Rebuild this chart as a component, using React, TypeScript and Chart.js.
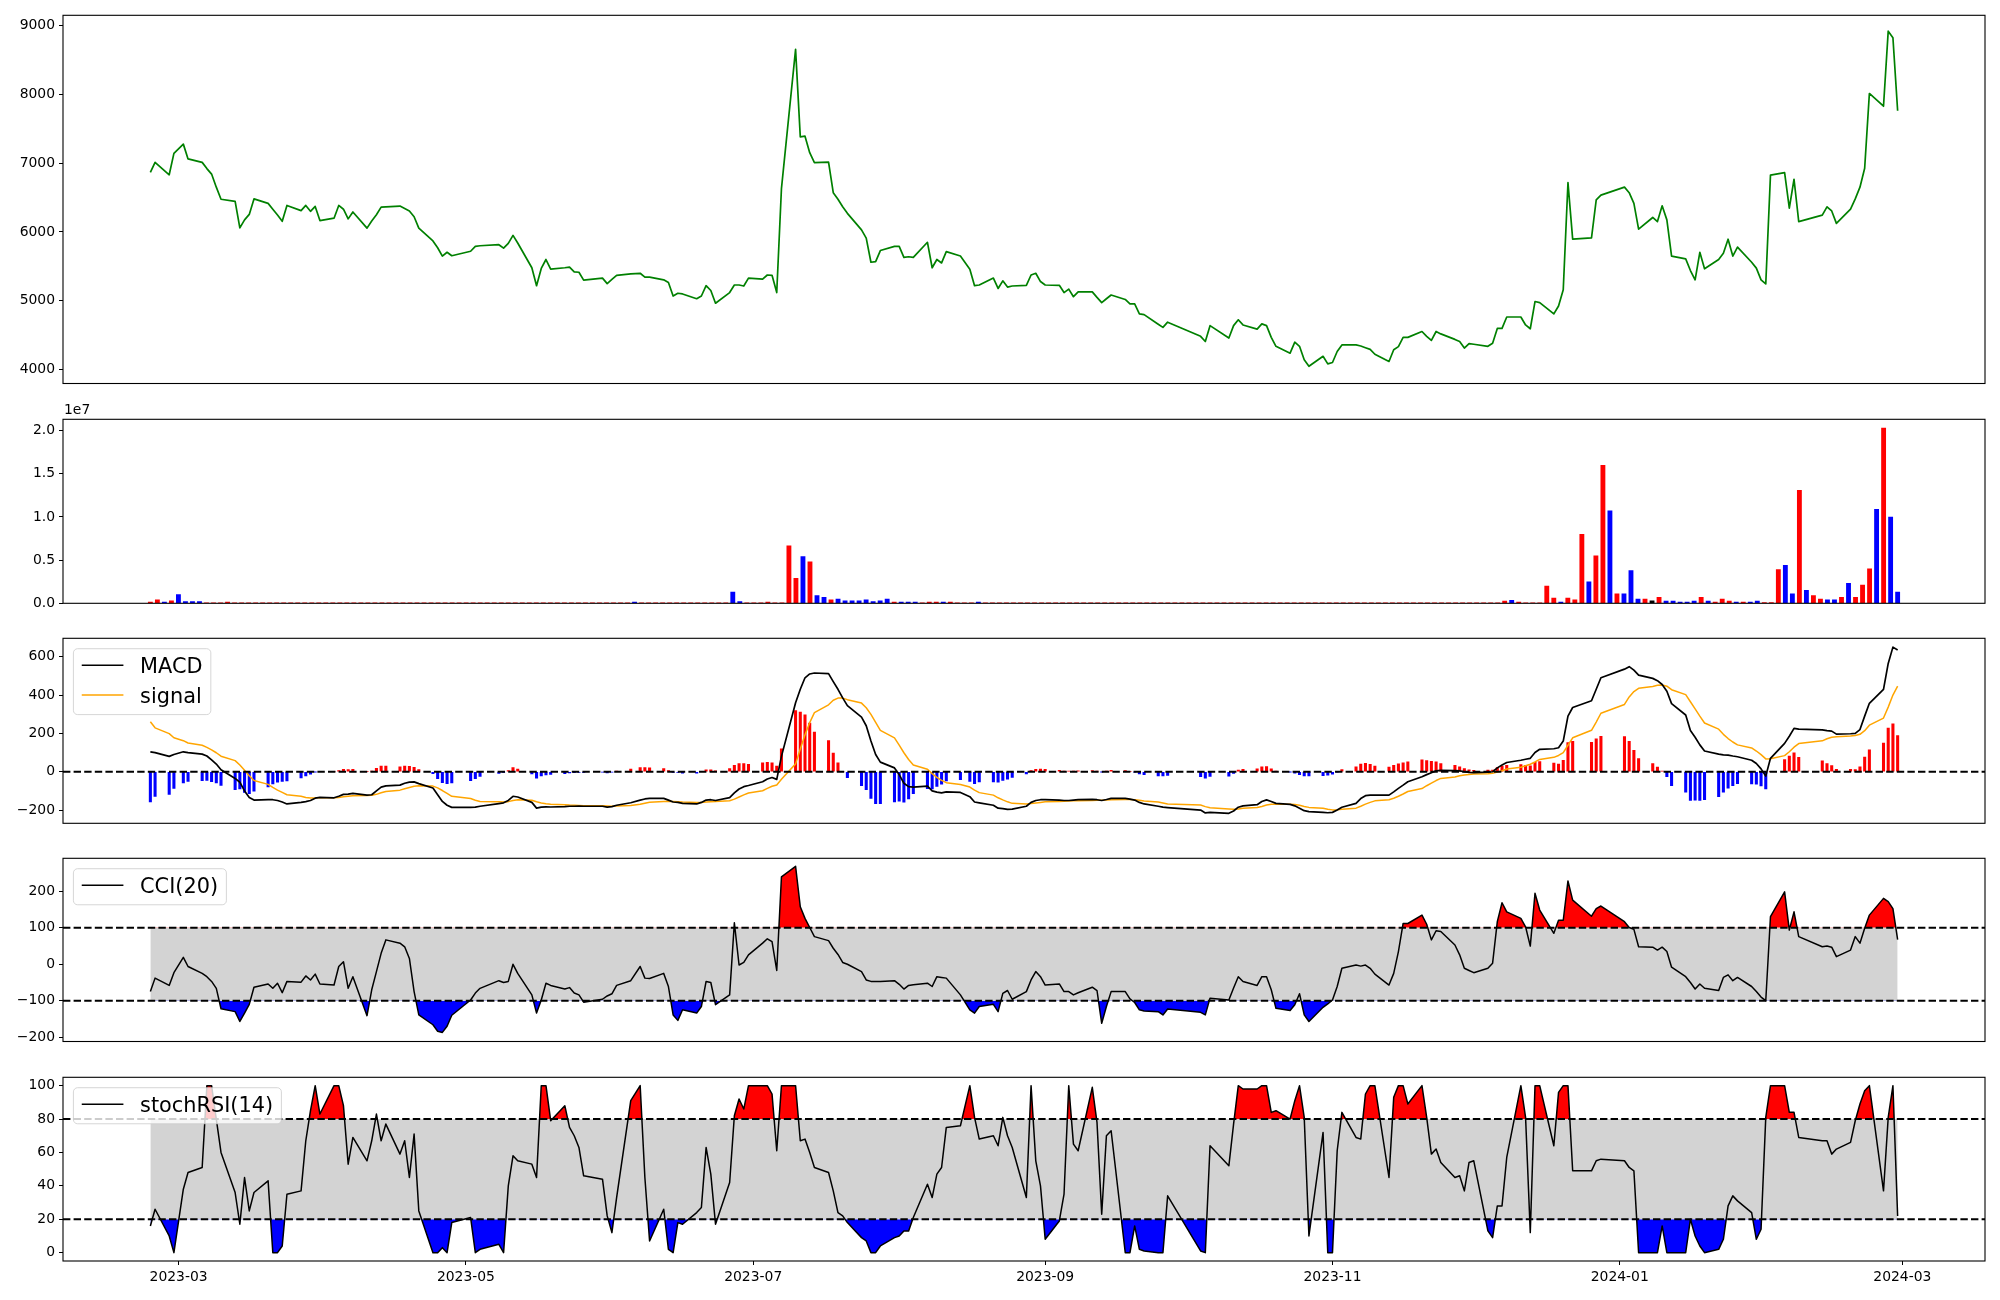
import React, { useEffect, useRef } from "react";
import { Chart, registerables } from "chart.js";

Chart.register(...registerables);

const FONT = "'DejaVu Sans', 'Liberation Sans', sans-serif";
Chart.defaults.font.family = FONT;
Chart.defaults.color = "#000";

// ---------- data ----------
const TRADING_MONTHS: [string, number[]][] = [
  ["2023-02", [23, 24, 27, 28]],
  ["2023-03", [2, 3, 6, 7, 8, 9, 10, 13, 14, 15, 16, 17, 20, 21, 22, 23, 24, 27, 28, 29, 30, 31]],
  ["2023-04", [3, 4, 5, 6, 7, 10, 11, 12, 13, 14, 17, 18, 19, 20, 21, 24, 25, 26, 27, 28]],
  ["2023-05", [2, 3, 4, 8, 9, 10, 11, 12, 15, 16, 17, 18, 19, 22, 23, 24, 25, 26, 30, 31]],
  ["2023-06", [1, 2, 5, 7, 8, 9, 12, 13, 14, 15, 16, 19, 20, 21, 22, 23, 26, 27, 28, 29, 30]],
  ["2023-07", [3, 4, 5, 6, 7, 10, 11, 12, 13, 14, 17, 18, 19, 20, 21, 24, 25, 26, 27, 28, 31]],
  ["2023-08", [1, 2, 3, 4, 7, 8, 9, 10, 11, 14, 16, 17, 18, 21, 22, 23, 24, 25, 28, 29, 30, 31]],
  ["2023-09", [1, 4, 5, 6, 7, 8, 11, 12, 13, 14, 15, 18, 19, 20, 21, 22, 25, 26, 27]],
  ["2023-10", [4, 5, 6, 10, 11, 12, 13, 16, 17, 18, 19, 20, 23, 24, 25, 26, 27, 30, 31]],
  ["2023-11", [1, 2, 3, 6, 7, 8, 9, 10, 13, 14, 15, 16, 17, 20, 21, 22, 23, 24, 27, 28, 29, 30]],
  ["2023-12", [1, 4, 5, 6, 7, 8, 11, 12, 13, 14, 15, 18, 19, 20, 21, 22, 26, 27, 28]],
  ["2024-01", [2, 3, 4, 5, 8, 9, 10, 11, 12, 15, 16, 17, 18, 19, 22, 23, 24, 25, 26, 29, 30, 31]],
  ["2024-02", [1, 2, 5, 6, 7, 8, 13, 14, 15, 16, 19, 20, 21, 22, 23, 26, 27, 28, 29]],
];

const CLOSE = [
  6865, 7010, 6830, 7140,
  7275, 7060, 7010, 6920, 6840, 6650, 6475, 6445, 6060, 6175, 6255, 6480, 6415, 6330, 6245, 6155, 6385, 6310, 6385, 6300, 6370, 6165,
  6200, 6385, 6330, 6190, 6290, 6055, 6160, 6250, 6360, 6365, 6375, 6340, 6305, 6220, 6055, 5870, 5770, 5650, 5705, 5655,
  5720, 5790, 5800, 5815, 5765, 5835, 5950, 5840, 5480, 5220, 5470, 5600, 5460, 5480, 5490, 5420, 5415, 5300, 5330, 5250,
  5310, 5370, 5390, 5400, 5345, 5345, 5305, 5265, 5070, 5110, 5100, 5030, 5070, 5220, 5150, 4965, 5120, 5230, 5230, 5215, 5330,
  5315, 5375, 5370, 5120, 6630, 8650, 7380, 7390, 7150, 7005, 7015, 6570, 6475, 6365, 6270, 6030, 5910, 5560, 5570, 5730, 5790,
  5790, 5630, 5640, 5630, 5850, 5480, 5600, 5550, 5715, 5650, 5460, 5220, 5230, 5330, 5180, 5290, 5200, 5215, 5225, 5375, 5400, 5280,
  5230, 5225, 5120, 5170, 5060, 5130, 5130, 5050, 4975, 5030, 5085, 5020, 4955, 4955, 4810, 4800, 4660, 4615, 4690,
  4485, 4410, 4640, 4460, 4640, 4725, 4650, 4590, 4665, 4640, 4470, 4340, 4240, 4400, 4340, 4145, 4050, 4195, 4085,
  4105, 4265, 4360, 4360, 4345, 4320, 4295, 4225, 4120, 4290, 4335, 4470, 4470, 4555, 4485, 4425, 4555, 4520, 4440, 4410, 4315, 4380,
  4370, 4340, 4385, 4600, 4600, 4765, 4765, 4650, 4595, 4990, 4975, 4810, 4925, 5160, 6715, 5895, 5915, 6465, 6535,
  6650, 6570, 6415, 6040, 6210, 6150, 6380, 6175, 5650, 5610, 5440, 5305, 5705, 5465, 5600, 5690, 5895, 5650, 5780, 5560, 5475, 5305,
  5245, 6825, 6860, 6345, 6765, 6150, 6245, 6365, 6305, 6125, 6330, 6480, 6650, 6925, 8010, 7825, 8915, 8820, 7760,
];

const VOLUME = [
  150000, 400000, 150000, 300000, 1000000, 200000, 200000, 200000, 30000, 20000,
  20000, 150000, 20000, 25000, 20000, 20000, 25000, 20000, 20000, 20000,
  20000, 25000, 20000, 20000, 20000, 20000, 25000, 20000, 20000, 20000,
  20000, 20000, 25000, 20000, 20000, 20000, 20000, 25000, 20000, 20000,
  20000, 20000, 20000, 25000, 20000, 20000, 20000, 20000, 25000, 20000,
  20000, 25000, 20000, 20000, 20000, 20000, 20000, 25000, 20000, 20000,
  20000, 20000, 25000, 20000, 20000, 20000, 20000, 20000, 25000, 150000,
  20000, 20000, 25000, 20000, 20000, 20000, 25000, 20000, 20000, 20000,
  20000, 20000, 20000, 1300000, 200000, 20000, 20000, 20000, 150000, 20000,
  30000, 6650000, 2900000, 5400000, 4800000, 900000, 700000, 400000, 500000, 300000,
  300000, 300000, 400000, 200000, 300000, 500000, 150000, 150000, 150000, 150000,
  60000, 150000, 150000, 150000, 150000, 60000, 60000, 60000, 150000, 60000,
  30000, 30000, 25000, 30000, 30000, 25000, 30000, 30000, 25000, 30000,
  20000, 20000, 25000, 20000, 20000, 20000, 25000, 20000, 20000, 20000,
  20000, 25000, 20000, 20000, 20000, 20000, 20000, 25000, 20000, 20000,
  20000, 20000, 20000, 25000, 20000, 20000, 20000, 20000, 25000, 20000,
  20000, 25000, 20000, 20000, 20000, 20000, 25000, 20000, 20000, 20000,
  20000, 20000, 25000, 20000, 20000, 20000, 20000, 25000, 20000, 20000,
  20000, 20000, 20000, 20000, 25000, 20000, 20000, 20000, 20000, 25000,
  30000, 30000, 40000, 250000, 350000, 150000, 60000, 40000, 60000, 2000000,
  600000, 150000, 600000, 400000, 8000000, 2500000, 5500000, 16000000, 10700000, 1100000,
  1100000, 3800000, 500000, 500000, 300000, 700000, 250000, 250000, 150000, 150000,
  250000, 700000, 250000, 150000, 500000, 250000, 150000, 150000, 150000, 250000,
  80000, 80000, 3900000, 4400000, 1100000, 13100000, 1500000, 900000, 500000, 400000,
  400000, 700000, 2300000, 700000, 2100000, 4000000, 10900000, 20300000, 10000000, 1300000,
];

// u = up day, d = down day, f = unchanged
const VOLUME_DIR = [
  "uududddduu", "uuuuuuuuuu", "uuuuuuuuuu", "uuuuuuuuuu", "uuuuuuuuuu",
  "uuuuuuuuuu", "uuuuuuuuud", "uuuuuuuuuu", "uuudduuuuu", "uuududdudd",
  "dddddduddd", "uuuduuuudu", "uuuuuuuuuu", "uuuuuuuuuu", "uuuuuuuuuu",
  "uuuuuuuuuu", "uuuuuuuuuu", "uuuuuuuuuu", "uuuuuuuuuu", "uuuuduuuuu",
  "uduuuduudu", "dddufudddd", "duduuududd", "uuudduduud", "duduuududd",
].join("");

const MACD = [
  104, 100, 80, 90, 104, 100, 92, 82, 62, 40,
  10, -35, -55, -100, -135, -148, -145, -146, -150, -158,
  -168, -160, -156, -150, -138, -134, -136, -128, -118, -117,
  -113, -122, -120, -100, -80, -74, -70, -60, -54, -53,
  -62, -85, -120, -155, -175, -186, -186, -185, -180, -166,
  -162, -150, -128, -132, -160, -190, -185, -183, -184, -182,
  -180, -180, -179, -180, -180, -185, -182, -175, -162, -148,
  -142, -139, -139, -148, -158, -160, -165, -168, -160, -148,
  -146, -150, -135, -110, -90, -78, -72, -52, -38, -30,
  -40, 80, 360, 430, 490, 510, 515, 512, 470, 430,
  385, 345, 285, 240, 160, 90, 50, 20, -15, -60,
  -78, -80, -75, -100, -106, -110, -105, -108, -130, -158,
  -162, -175, -190, -192, -196, -195, -180, -160, -150, -146,
  -145, -148, -150, -150, -148, -146, -144, -146, -150, -145,
  -139, -139, -143, -148, -160, -168, -180, -185, -187, -200,
  -215, -212, -217, -205, -185, -178, -172, -155, -147, -155,
  -165, -170, -178, -190, -203, -208, -212, -214, -212, -200,
  -185, -165, -140, -125, -122, -122, -122, -105, -87, -70,
  -52, -26, -15, -5, 5, 7, 6, 4, 0, -4,
  -5, -2, 0, 20, 35, 48, 60, 65, 70, 100,
  117, 120, 125, 160, 290, 335, 370, 430, 490, 535,
  548, 530, 504, 487, 475, 455, 420, 355, 296, 215,
  180, 140, 108, 92, 88, 87, 82, 78, 60, 43,
  15, -23, 70, 148, 185, 226, 222, 218, 214, 212,
  196, 198, 200, 220, 290, 357, 430, 565, 650, 635,
];

const SIGNAL = [
  261, 229, 199, 177, 162, 150, 138, 127, 114, 99,
  81, 58, 35, 8, -21, -46, -66, -82, -96, -108,
  -120, -128, -134, -137, -137, -136, -136, -134, -131, -128,
  -125, -124, -123, -118, -110, -103, -96, -89, -82, -76,
  -73, -75, -84, -98, -113, -128, -140, -149, -155, -157,
  -158, -156, -150, -146, -149, -157, -163, -167, -170, -172,
  -174, -175, -176, -177, -178, -179, -180, -179, -176, -170,
  -164, -159, -155, -154, -155, -156, -158, -160, -160, -158,
  -156, -155, -151, -143, -132, -121, -111, -99, -87, -76,
  -69, -39, 41, 119, 193, 256, 308, 349, 373, 384,
  384, 376, 358, 334, 299, 257, 216, 177, 139, 99,
  64, 35, 13, -10, -29, -45, -57, -67, -80, -96,
  -109, -122, -136, -147, -157, -165, -168, -166, -163, -160,
  -157, -155, -154, -153, -152, -151, -150, -149, -149, -148,
  -146, -145, -145, -146, -149, -153, -158, -163, -168, -174,
  -182, -188, -194, -196, -194, -191, -187, -181, -174, -170,
  -169, -169, -171, -175, -181, -186, -191, -196, -199, -199,
  -196, -190, -180, -169, -160, -152, -146, -138, -128, -116,
  -103, -88, -73, -59, -46, -35, -27, -21, -17, -14,
  -12, -10, -8, -2, 5, 14, 23, 31, 39, 51,
  64, 75, 85, 100, 138, 177, 216, 259, 305, 351,
  390, 418, 435, 445, 451, 452, 446, 428, 402, 365,
  328, 290, 254, 222, 195, 173, 155, 140, 124, 108,
  89, 67, 68, 84, 104, 128, 147, 161, 172, 180,
  183, 186, 189, 195, 214, 243, 280, 337, 400, 447,
];

const HIST = [
  -157, -129, -119, -87, -58, -50, -46, -45, -52, -59,
  -71, -93, -90, -108, -114, -102, -79, -64, -54, -50,
  -48, -32, -22, -13, -1, 2, 0, 6, 13, 11,
  12, 2, 3, 18, 30, 29, 26, 29, 28, 23,
  11, -10, -36, -57, -62, -58, -46, -36, -25, -9,
  -4, 6, 22, 14, -11, -33, -22, -16, -14, -10,
  -6, -5, -3, -3, -2, -6, -2, 4, 14, 22,
  22, 20, 16, 6, -3, -4, -7, -8, 0, 10,
  10, 5, 16, 33, 42, 43, 39, 47, 49, 46,
  29, 119, 319, 311, 297, 254, 207, 163, 97, 46,
  1, -31, -73, -94, -139, -167, -166, -157, -154, -159,
  -142, -115, -88, -90, -77, -65, -48, -41, -50, -62,
  -53, -53, -54, -45, -39, -30, -12, 6, 13, 14,
  12, 7, 4, 3, 4, 5, 6, 3, -1, 3,
  7, 6, 2, -2, -11, -15, -22, -22, -19, -26,
  -33, -24, -23, -9, 9, 13, 15, 26, 27, 15,
  4, -1, -7, -15, -22, -22, -21, -18, -13, -1,
  11, 25, 40, 44, 38, 30, 24, 33, 41, 46,
  51, 62, 58, 54, 51, 42, 33, 25, 17, 10,
  7, 8, 8, 22, 30, 34, 37, 34, 31, 49,
  53, 45, 40, 60, 152, 158, 154, 171, 185, 184,
  158, 112, 69, 42, 24, 3, -26, -73, -106, -150,
  -148, -150, -146, -130, -107, -86, -73, -62, -64, -65,
  -74, -90, 2, 64, 81, 98, 75, 57, 42, 32,
  13, 12, 11, 25, 76, 114, 150, 228, 250, 188,
];

const CCI = [
  -75, -38, -58, -23, 19, -6, -25, -34, -47, -66,
  -122, -130, -157, -134, -110, -63, -54, -66, -52, -78,
  -47, -49, -32, -43, -27, -54, -57, -6, 7, -66,
  -34, -141, -70, -20, 30, 67, 58, 48, 16, -75,
  -139, -166, -184, -187, -170, -140, -98, -79, -66, -45,
  -50, -47, 0, -25, -84, -134, -98, -52, -58, -68,
  -64, -79, -84, -104, -96, -87, -81, -58, -45, -6,
  -38, -39, -25, -61, -139, -154, -125, -134, -116, -47,
  -50, -111, -84, 114, -2, 5, 26, 58, 70, 62,
  -17, 240, 269, 158, 126, 101, 76, 65, 44, 27,
  5, 0, -20, -43, -47, -47, -47, -45, -55, -68,
  -58, -56, -52, -61, -34, -36, -38, -84, -125, -134,
  -116, -110, -130, -80, -72, -96, -75, -43, -20, -34,
  -57, -54, -75, -75, -84, -78, -63, -72, -162, -116,
  -75, -75, -95, -105, -125, -128, -130, -139, -123, -132,
  -139, -93, -98, -65, -34, -47, -58, -34, -34, -70,
  -121, -127, -111, -81, -139, -157, -118, -109, -98, -61,
  -11, -2, -5, -2, -11, -27, -57, -25, 35, 112,
  112, 135, 110, 67, 92, 90, 53, 26, -11, -17,
  -23, -11, 3, 117, 169, 144, 126, 103, 50, 195,
  149, 85, 121, 121, 229, 176, 132, 153, 160, 117,
  101, 96, 48, 47, 39, 47, 35, -8, -34, -50,
  -68, -54, -66, -72, -36, -29, -45, -36, -61, -75,
  -90, -100, 131, 199, 94, 144, 76, 48, 50, 47,
  21, 39, 76, 58, 99, 135, 181, 172, 153, 68,
];

const STOCH_RSI = [
  16, 26, 10, 0, 38, 48, 51, 100, 100, 80,
  60, 36, 17, 45, 25, 36, 43, 0, 0, 4,
  35, 37, 67, 85, 100, 83, 100, 100, 88, 53,
  69, 55, 67, 83, 67, 77, 59, 67, 45, 71,
  25, 0, 0, 3, 0, 18, 21, 0, 2, 5,
  0, 40, 58, 55, 53, 45, 100, 100, 79, 88,
  75, 70, 63, 46, 44, 22, 12, 33, 91, 100,
  45, 7, 26, 2, 0, 18, 17, 24, 27, 63,
  47, 17, 42, 82, 92, 86, 100, 100, 100, 95,
  61, 100, 100, 67, 68, 60, 51, 48, 37, 24,
  22, 18, 9, 7, 0, 0, 4, 9, 10, 13,
  13, 21, 41, 33, 47, 51, 75, 76, 100, 81,
  68, 70, 64, 81, 70, 63, 33, 100, 55, 40,
  8, 19, 35, 100, 65, 61, 99, 78, 23, 70,
  73, 0, 0, 16, 2, 1, 0, 0, 34, 1,
  0, 64, 52, 77, 100, 98, 98, 100, 100, 84,
  85, 80, 91, 100, 81, 10, 72, 0, 0, 61,
  84, 69, 68, 95, 100, 100, 45, 93, 100, 100,
  89, 100, 81, 59, 62, 54, 45, 46, 37, 54,
  55, 13, 9, 28, 28, 57, 100, 81, 12, 100,
  100, 64, 96, 100, 100, 49, 49, 55, 56, 55,
  51, 49, 0, 0, 0, 16, 0, 0, 0, 20,
  10, 4, 0, 2, 8, 28, 34, 31, 24, 8,
  14, 81, 100, 100, 84, 84, 69, 67, 67, 59,
  62, 66, 79, 89, 97, 100, 37, 81, 100, 22,
];

const X_TICK_LABELS = ["2023-03", "2023-05", "2023-07", "2023-09", "2023-11", "2024-01", "2024-03"];
const PRICE_TICKS = [4000, 5000, 6000, 7000, 8000, 9000];
const VOLUME_TICKS = [0, 5e6, 1e7, 1.5e7, 2e7];
const MACD_TICKS = [-200, 0, 200, 400, 600];
const CCI_TICKS = [-200, -100, 0, 100, 200];
const STOCH_TICKS = [0, 20, 40, 60, 80, 100];
const CCI_LEVELS = [-100, 100];
const STOCH_LEVELS = [20, 80];

// ---------- derived (axis in days since 2023-03-01) ----------
const BASE = Date.UTC(2023, 2, 1);
const dayNum = (s: string) => {
  const [y, m, d] = s.split("-").map(Number);
  return (Date.UTC(y, m - 1, d) - BASE) / 86400000;
};
const DATES = TRADING_MONTHS.flatMap(([ym, days]) => days.map((d) => `${ym}-${String(d).padStart(2, "0")}`));
const X = DATES.map(dayNum);
const N = X.length;
const X_FIRST = X[0];
const X_LAST = X[N - 1];
const X_MIN = X_FIRST - 0.05 * (X_LAST - X_FIRST);
const X_MAX = X_LAST + 0.05 * (X_LAST - X_FIRST);
const X_TICKS = X_TICK_LABELS.map((l) => ({ value: dayNum(l + "-01"), label: l }));

const pts = (arr: number[]) => arr.map((y, i) => ({ x: X[i], y }));
const minus = (v: number, digits = 0) => {
  const s = Math.abs(v).toFixed(digits);
  return v < 0 ? "\u2212" + s : s;
};

const TICK_FONT = { family: FONT, size: 13.9 };

function xScale(show: boolean) {
  return {
    type: "linear",
    min: X_MIN,
    max: X_MAX,
    offset: false,
    display: show,
    grid: { display: true, drawOnChartArea: false, drawTicks: true, tickLength: 4, color: "#000", lineWidth: 1 },
    border: { display: false },
    ticks: {
      autoSkip: false,
      maxRotation: 0,
      minRotation: 0,
      padding: 4,
      color: "#000",
      font: TICK_FONT,
      callback: (v: number) => {
        const t = X_TICKS.find((k) => Math.abs(k.value - v) < 0.5);
        return t ? t.label : "";
      },
    },
    afterBuildTicks: (s: any) => {
      s.ticks = X_TICKS.map((t) => ({ value: t.value }));
    },
    afterFit: (s: any) => {
      if (show) s.height = 32;
    },
  };
}

function yScale(min: number, max: number, ticks: number[], fmt: (v: number) => string) {
  return {
    type: "linear",
    position: "left",
    min,
    max,
    grid: { display: true, drawOnChartArea: false, drawTicks: true, tickLength: 4, color: "#000", lineWidth: 1 },
    border: { display: false },
    ticks: { padding: 4, color: "#000", font: TICK_FONT, callback: (v: number) => fmt(v) },
    afterBuildTicks: (s: any) => {
      s.ticks = ticks.map((v) => ({ value: v }));
    },
    afterFit: (s: any) => {
      s.width = 63;
    },
  };
}

// ---------- plugins ----------
function framePlugin() {
  return {
    id: "frame",
    afterDatasetsDraw(chart: any) {
      const { ctx, chartArea: a } = chart;
      ctx.save();
      ctx.strokeStyle = "#000";
      ctx.lineWidth = 1.1;
      ctx.setLineDash([]);
      ctx.strokeRect(a.left, a.top, a.right - a.left, a.bottom - a.top);
      ctx.restore();
    },
  };
}

function levelsPlugin(levels: number[]) {
  return {
    id: "levels",
    afterDatasetsDraw(chart: any) {
      const { ctx, chartArea: a, scales } = chart;
      ctx.save();
      ctx.beginPath();
      ctx.rect(a.left, a.top, a.right - a.left, a.bottom - a.top);
      ctx.clip();
      ctx.strokeStyle = "#000";
      ctx.lineWidth = 2;
      ctx.setLineDash([7.4, 3.2]);
      for (const v of levels) {
        const py = scales.y.getPixelForValue(v);
        ctx.beginPath();
        ctx.moveTo(a.left, py);
        ctx.lineTo(a.right, py);
        ctx.stroke();
      }
      ctx.restore();
    },
  };
}

function legendPlugin(items: { label: string; color: string }[]) {
  return {
    id: "boxLegend",
    afterDraw(chart: any) {
      const { ctx, chartArea: a } = chart;
      const fs = 20.83;
      const pad = 0.4 * fs;
      const handleLen = 2 * fs;
      const textPad = 0.8 * fs;
      const rowH = 19.4;
      const spacing = 0.5 * fs;
      ctx.save();
      ctx.font = `${fs}px ${FONT}`;
      const tw = Math.max(...items.map((it) => ctx.measureText(it.label).width));
      const w = 2 * pad + handleLen + textPad + tw;
      const h = 2 * pad + items.length * rowH + (items.length - 1) * spacing;
      const x0 = a.left + 0.5 * fs;
      const y0 = a.top + 0.5 * fs;
      const r = 0.2 * fs;
      ctx.beginPath();
      ctx.moveTo(x0 + r, y0);
      ctx.lineTo(x0 + w - r, y0);
      ctx.arcTo(x0 + w, y0, x0 + w, y0 + r, r);
      ctx.lineTo(x0 + w, y0 + h - r);
      ctx.arcTo(x0 + w, y0 + h, x0 + w - r, y0 + h, r);
      ctx.lineTo(x0 + r, y0 + h);
      ctx.arcTo(x0, y0 + h, x0, y0 + h - r, r);
      ctx.lineTo(x0, y0 + r);
      ctx.arcTo(x0, y0, x0 + r, y0, r);
      ctx.closePath();
      ctx.fillStyle = "rgba(255,255,255,0.8)";
      ctx.fill();
      ctx.strokeStyle = "rgba(204,204,204,0.8)";
      ctx.lineWidth = 1;
      ctx.setLineDash([]);
      ctx.stroke();
      items.forEach((it, i) => {
        const cy = y0 + 16.5 + i * (rowH + spacing);
        ctx.strokeStyle = it.color;
        ctx.lineWidth = 1.5;
        ctx.beginPath();
        ctx.moveTo(x0 + pad, cy);
        ctx.lineTo(x0 + pad + handleLen, cy);
        ctx.stroke();
        ctx.fillStyle = "#000";
        ctx.textAlign = "left";
        ctx.textBaseline = "alphabetic";
        ctx.fillText(it.label, x0 + pad + handleLen + textPad, cy + 8.2);
      });
      ctx.restore();
    },
  };
}

function offsetTextPlugin(text: string) {
  return {
    id: "offsetText",
    afterDraw(chart: any) {
      const { ctx, chartArea: a } = chart;
      ctx.save();
      ctx.font = `13.9px ${FONT}`;
      ctx.fillStyle = "#000";
      ctx.textAlign = "left";
      ctx.textBaseline = "alphabetic";
      ctx.fillText(text, a.left + 1, a.top - 5);
      ctx.restore();
    },
  };
}

function baseOptions(padTop: number, padBottom: number, showX: boolean, y: any) {
  return {
    animation: false,
    responsive: false,
    maintainAspectRatio: false,
    devicePixelRatio: 1,
    events: [],
    layout: { padding: { left: 0, right: 15, top: padTop, bottom: padBottom } },
    plugins: { legend: { display: false }, tooltip: { enabled: false }, title: { display: false } },
    scales: { x: xScale(showX), y },
  };
}

const lineDs = (data: any[], color: string, width: number, order: number) => ({
  type: "line",
  data,
  borderColor: color,
  borderWidth: width,
  pointRadius: 0,
  pointHoverRadius: 0,
  tension: 0,
  fill: false,
  borderJoinStyle: "round",
  order,
});

function bandDatasets(values: number[], lo: number, hi: number) {
  const data = pts(values);
  return [
    {
      type: "line",
      data: [
        { x: X_FIRST, y: hi },
        { x: X_LAST, y: hi },
      ],
      borderWidth: 0,
      borderColor: "rgba(0,0,0,0)",
      pointRadius: 0,
      backgroundColor: "#d3d3d3",
      fill: { target: { value: lo } },
      order: 10,
    },
    {
      type: "line",
      data,
      borderWidth: 0,
      borderColor: "rgba(0,0,0,0)",
      pointRadius: 0,
      tension: 0,
      fill: { target: { value: hi }, above: "#ff0000", below: "rgba(0,0,0,0)" },
      order: 8,
    },
    {
      type: "line",
      data,
      borderWidth: 0,
      borderColor: "rgba(0,0,0,0)",
      pointRadius: 0,
      tension: 0,
      fill: { target: { value: lo }, above: "rgba(0,0,0,0)", below: "#0000ff" },
      order: 7,
    },
    lineDs(data, "#000", 1.5, 1),
  ];
}

type PanelSpec = { top: number; height: number; make: () => any };

// chart areas (page px): price 15.3-383.5, volume 419.3-603.3, MACD 638.3-823.3, CCI 858.3-1041.5, stochRSI 1077.3-1261
const PANELS: PanelSpec[] = [
  {
    top: 0,
    height: 398,
    make: () => ({
      type: "line",
      data: { datasets: [lineDs(pts(CLOSE), "#008000", 1.7, 1)] },
      options: baseOptions(15.3, 14.5, false, yScale(3800, 9145, PRICE_TICKS, (v) => String(v))),
      plugins: [framePlugin()],
    }),
  },
  {
    top: 399,
    height: 219,
    make: () => {
      const step = (X_LAST - X_FIRST) / (N - 1);
      const colors = VOLUME.map((_, i) => {
        const c = VOLUME_DIR[i] || "u";
        return c === "d" ? "#0000ff" : c === "f" ? "#000000" : "#ff0000";
      });
      return {
        type: "line",
        data: {
          datasets: [
            {
              type: "bar",
              data: VOLUME.map((v, i) => ({ x: X_FIRST + i * step, y: v })),
              backgroundColor: colors,
              borderWidth: 0,
              barThickness: 4.2,
              grouped: false,
              order: 1,
            },
          ],
        },
        options: baseOptions(20.3, 14.7, false, yScale(0, 2.132e7, VOLUME_TICKS, (v) => (v / 1e7).toFixed(1))),
        plugins: [framePlugin(), offsetTextPlugin("1e7")],
      };
    },
  },
  {
    top: 619,
    height: 219,
    make: () => ({
      type: "line",
      data: {
        datasets: [
          {
            type: "bar",
            data: pts(HIST),
            backgroundColor: HIST.map((v) => (v >= 0 ? "#ff0000" : "#0000ff")),
            borderWidth: 0,
            barThickness: 2.4,
            grouped: false,
            order: 5,
          },
          lineDs(pts(SIGNAL), "#ffa500", 1.5, 2),
          lineDs(pts(MACD), "#000000", 1.7, 1),
        ],
      },
      options: baseOptions(19.3, 14.7, false, yScale(-269, 696, MACD_TICKS, (v) => minus(v))),
      plugins: [
        levelsPlugin([0]),
        framePlugin(),
        legendPlugin([
          { label: "MACD", color: "#000000" },
          { label: "signal", color: "#ffa500" },
        ]),
      ],
    }),
  },
  {
    top: 839,
    height: 217,
    make: () => ({
      type: "line",
      data: { datasets: bandDatasets(CCI, CCI_LEVELS[0], CCI_LEVELS[1]) },
      options: baseOptions(19.3, 14.5, false, yScale(-212, 291, CCI_TICKS, (v) => minus(v))),
      plugins: [levelsPlugin(CCI_LEVELS), framePlugin(), legendPlugin([{ label: "CCI(20)", color: "#000000" }])],
    }),
  },
  {
    top: 1057,
    height: 243,
    make: () => ({
      type: "line",
      data: { datasets: bandDatasets(STOCH_RSI, STOCH_LEVELS[0], STOCH_LEVELS[1]) },
      options: baseOptions(20.3, 7, true, yScale(-5, 105, STOCH_TICKS, (v) => minus(v))),
      plugins: [levelsPlugin(STOCH_LEVELS), framePlugin(), legendPlugin([{ label: "stochRSI(14)", color: "#000000" }])],
    }),
  },
];

export default function App() {
  const refs = useRef<(HTMLCanvasElement | null)[]>([]);
  useEffect(() => {
    const charts: Chart[] = [];
    PANELS.forEach((p, i) => {
      const el = refs.current[i];
      if (el) charts.push(new Chart(el, p.make()));
    });
    return () => charts.forEach((c) => c.destroy());
  }, []);
  return (
    <div style={{ position: "absolute", left: 0, top: 0, width: 2000, height: 1300, background: "#ffffff" }}>
      {PANELS.map((p, i) => (
        <canvas
          key={i}
          ref={(el) => {
            refs.current[i] = el;
          }}
          width={2000}
          height={p.height}
          style={{ position: "absolute", left: 0, top: p.top, width: 2000, height: p.height }}
        />
      ))}
    </div>
  );
}
